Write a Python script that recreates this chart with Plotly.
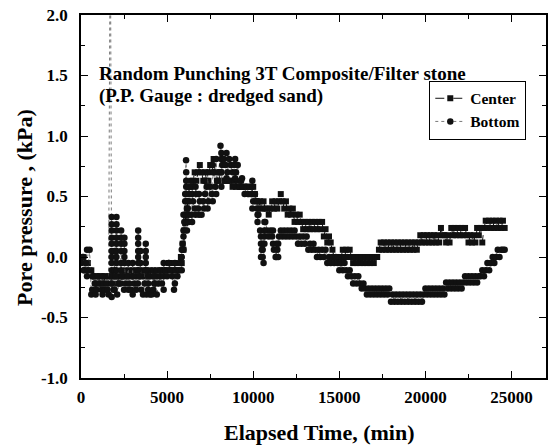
import plotly.graph_objects as go

# ---------------- data ----------------
# sampling grid of the logger, minutes
time_min = list(range(0, 24700, 100))

center_kpa = [
    0.0, 0.0, -0.05, -0.05, -0.05, -0.11,                                   # 0-500
    -0.11, -0.16, -0.16, -0.16, -0.22, -0.16, -0.16, -0.22, -0.16,          # 600-1400
    -0.16, -0.16, -0.22, -0.16, -0.16, -0.16, -0.22, -0.16, -0.16, -0.16, -0.16,  # 1500-2500
    -0.11, -0.16, -0.11, -0.16, -0.11, -0.16, -0.11, -0.16, -0.11, -0.16, -0.11,
    -0.16, -0.11, -0.16, -0.11, -0.16, -0.11, -0.16, -0.11, -0.16, -0.11,   # 2600-4600
    -0.11, -0.11, -0.11, -0.11, -0.05, -0.11, -0.11, -0.05, -0.11, -0.11, -0.05,  # 4700-5700
    0.0, 0.11, 0.22, 0.33, 0.46, 0.58, 0.63,                                # 5800-6400
    0.63, 0.70, 0.63, 0.70, 0.76, 0.70, 0.63, 0.70, 0.63, 0.63,             # 6500-7400
    0.76, 0.70, 0.81, 0.70, 0.63, 0.63, 0.70, 0.63, 0.63, 0.63, 0.63, 0.63, # 7500-8600
    0.63, 0.58, 0.63, 0.58, 0.63, 0.58, 0.58, 0.58, 0.58, 0.58, 0.58,       # 8700-9700
    0.52, 0.52, 0.58, 0.52, 0.46, 0.40, 0.46, 0.40, 0.46, 0.40,             # 9800-10700
    0.40, 0.35, 0.40, 0.46, 0.40, 0.46, 0.40, 0.46, 0.52, 0.46, 0.40, 0.46,
    0.35, 0.40, 0.35, 0.40,                                                 # 10800-12300
    0.29, 0.35, 0.29, 0.35, 0.29,                                           # 12400-12800
    0.23, 0.29, 0.23, 0.29, 0.23, 0.29, 0.23, 0.29, 0.23, 0.29, 0.23, 0.29, # 12900-14000
    0.17, 0.23, 0.12, 0.17, 0.12,                                           # 14100-14500
    0.06, 0.0, 0.0, 0.0, 0.0, 0.0, 0.06, 0.0, 0.06, 0.0, 0.06, 0.0,         # 14600-15700
    -0.05, 0.0, -0.05, 0.0, -0.05, 0.0, -0.05, 0.0, -0.05, 0.0, -0.05, 0.0,
    -0.05, 0.0,                                                             # 15800-17100
    0.0, 0.06, 0.12, 0.06, 0.12, 0.06, 0.12, 0.06,                          # 17200-17900
    0.12, 0.06, 0.12, 0.06, 0.12, 0.06, 0.12, 0.06, 0.12, 0.06, 0.12, 0.06,
    0.12, 0.06, 0.12, 0.06, 0.12,                                           # 18000-19600
    0.18, 0.12, 0.18, 0.12, 0.18, 0.12, 0.18, 0.12, 0.18, 0.12, 0.18, 0.12, # 19700-20800
    0.24, 0.18, 0.18, 0.12, 0.18, 0.12,                                     # 20900-21400
    0.24, 0.18, 0.24, 0.18, 0.24, 0.18, 0.24, 0.18, 0.24, 0.18,             # 21500-22400
    0.12, 0.18, 0.12, 0.18, 0.12, 0.24, 0.18, 0.24, 0.12, 0.24,             # 22500-23400
    0.30, 0.24, 0.30, 0.24, 0.30, 0.24, 0.30, 0.24, 0.30, 0.24, 0.30, 0.24, # 23500-24600
]

bottom_kpa = [
    -0.05, 0.0, -0.11, -0.05, -0.11, 0.06,                                  # 0-500
    -0.31, -0.16, -0.22, -0.27, -0.16, -0.22, -0.27, -0.22, -0.27, -0.22, -0.31,  # 600-1600
    3.0,                                                                    # 1700 (off scale)
    -0.22, -0.27, -0.16, -0.31, -0.22,                                      # 1800-2200
    -0.22, -0.16, -0.27, -0.22, -0.16, -0.22, -0.27, -0.16, -0.22, -0.27,   # 2300-3200
    -0.22, -0.16, -0.27, -0.31, -0.22, -0.31, -0.27, -0.31,                 # 3300-4000
    -0.31, -0.27, -0.22, -0.31, -0.22, -0.16,                               # 4100-4600
    -0.22, -0.16, -0.11, -0.16, -0.05, -0.11, -0.16, -0.27, -0.11, -0.16, -0.11,  # 4700-5700
    -0.05, 0.11, 0.29, 0.80, 0.40, 0.52,                                    # 5800-6300
    0.35, 0.46, 0.40, 0.52, 0.40, 0.46, 0.35, 0.46, 0.52, 0.58, 0.46,       # 6400-7400
    0.58, 0.52, 0.70, 0.58, 0.63, 0.70, 0.92, 0.76, 0.81,                   # 7500-8300
    0.76, 0.70, 0.81, 0.76, 0.70, 0.76, 0.70, 0.76,                         # 8400-9100
    0.58, 0.63, 0.58, 0.52, 0.58, 0.52, 0.58, 0.52, 0.46, 0.52, 0.46,       # 9200-10200
    0.35, 0.22, 0.06, -0.05, 0.29, 0.22, 0.17, 0.22, 0.17, 0.06, 0.0, 0.06, # 10300-11400
    0.17, 0.22, 0.17, 0.22, 0.17, 0.22, 0.17, 0.22, 0.17, 0.22,             # 11500-12400
    0.17, 0.11, 0.17, 0.11, 0.17, 0.11, 0.17,                               # 12500-13100
    0.06, 0.11, 0.06, 0.11, 0.06,                                           # 13200-13600
    0.0, 0.06, 0.0, 0.06, 0.0, 0.06,                                        # 13700-14200
    -0.05, 0.0, -0.05, 0.0, -0.05, 0.0, -0.05,                              # 14300-14900
    -0.11, -0.05, -0.11, -0.05, -0.11,                                      # 15000-15400
    -0.16, -0.11, -0.16, -0.22, -0.16, -0.22, -0.16, -0.22, -0.26, -0.22, -0.26,  # 15500-16500
    -0.31, -0.26, -0.31, -0.26, -0.31, -0.26, -0.31, -0.26, -0.31, -0.26,
    -0.31, -0.26, -0.31, -0.26,                                             # 16600-17900
    -0.37, -0.31, -0.37, -0.31, -0.37, -0.31, -0.37, -0.31, -0.37, -0.31,
    -0.37, -0.31, -0.37, -0.31, -0.37, -0.31, -0.37, -0.31, -0.37, -0.31,   # 18000-19900
    -0.26, -0.31, -0.26, -0.31, -0.26, -0.31, -0.26, -0.31, -0.26, -0.31, -0.26, -0.31,  # 20000-21100
    -0.21, -0.26, -0.21, -0.26, -0.21, -0.26, -0.21, -0.26,                 # 21200-21900
    -0.21, -0.26, -0.21, -0.16, -0.21, -0.16, -0.21, -0.16, -0.21, -0.16, -0.21,  # 22000-23000
    -0.16, -0.16, -0.11, -0.16, -0.11, -0.05, -0.11, -0.05,                 # 23100-23800
    0.0, -0.05, 0.0, 0.06, 0.0, 0.06, 0.06, 0.06,                           # 23900-24600
]

# extra readings scattered between the grid times (noisy columns)
bottom_scatter = [
    (150, -0.11), (150, 0.0), (350, 0.06), (350, -0.16), (650, -0.27),
    (850, -0.31), (850, -0.22), (1250, -0.31), (1250, -0.16), (1550, -0.27),
    (1780, 0.33), (1780, 0.27), (1780, 0.22), (1780, 0.16), (1780, 0.11), (1780, 0.05),
    (1780, 0.0), (1780, -0.05), (1780, -0.11), (1780, -0.16), (1780, -0.33),
    (1950, 0.05), (1950, -0.11), (1950, -0.27),
    (2060, 0.33), (2060, 0.27), (2060, 0.22), (2060, 0.16), (2060, 0.11), (2060, 0.05),
    (2060, 0.0), (2060, -0.05), (2060, -0.11),
    (2330, 0.22), (2330, 0.16), (2330, 0.11), (2330, 0.05), (2330, -0.05), (2330, -0.11),
    (2520, 0.16), (2520, 0.11), (2520, 0.05), (2520, 0.0), (2520, -0.05),
    (2750, -0.05), (2750, -0.27), (3000, -0.05), (3000, -0.31),
    (3320, 0.22), (3320, 0.16), (3320, 0.11), (3320, 0.05), (3320, 0.0), (3320, -0.05), (3320, -0.11),
    (3450, 0.05), (3450, -0.05),
    (3760, 0.11), (3760, 0.05), (3760, 0.0), (3760, -0.05), (3760, -0.11),
    (3900, -0.16), (3900, -0.22), (4250, -0.16), (4250, -0.22),
    (4800, -0.27), (4800, -0.05), (5100, -0.05), (5450, -0.05), (5450, -0.22),
    (5850, 0.0), (5850, -0.11), (5850, 0.06),
    (5950, 0.17), (5950, 0.06), (5950, 0.22), (5950, 0.35),
    (6050, 0.46), (6050, 0.35), (6050, 0.52),
    (6110, 0.70), (6110, 0.63), (6110, 0.58),
    (6150, 0.52), (6150, 0.46), (6150, 0.40), (6150, 0.29), (6150, 0.22),
    (6250, 0.35), (6250, 0.29), (6250, 0.46), (6250, 0.58),
    (6450, 0.29), (6450, 0.52), (6450, 0.58), (6650, 0.35), (6650, 0.58),
    (6850, 0.35), (6850, 0.52), (7150, 0.40), (7150, 0.63), (7350, 0.40), (7350, 0.70),
    (7650, 0.46), (7650, 0.76), (7850, 0.52), (7850, 0.81),
    (8150, 0.86), (8150, 0.81), (8150, 0.70), (8150, 0.58),
    (8450, 0.86), (8450, 0.65), (8950, 0.81), (8950, 0.65), (9350, 0.65),
    (9950, 0.63), (9950, 0.58), (9950, 0.40),
    (10250, 0.46), (10250, 0.40), (10250, 0.35), (10250, 0.29),
    (10450, 0.17), (10450, 0.11), (10450, 0.0), (10550, 0.11), (10550, 0.06), (10550, 0.0),
    (10650, 0.22), (10650, 0.17), (10650, 0.11), (10650, 0.29),
    (11150, 0.22), (11150, 0.11), (11350, 0.11), (11350, 0.0), (11450, 0.11), (11450, 0.0),
]

center_scatter = [
    (5850, -0.05), (5950, 0.06), (6050, 0.28), (6150, 0.40), (6250, 0.52),
]

x_tick_values = [0, 5000, 10000, 15000, 20000, 25000]
x_tick_labels = ["0", "5000", "10000", "15000", "20000", "25000"]
y_tick_values = [-1.0, -0.5, 0.0, 0.5, 1.0, 1.5, 2.0]
y_tick_labels = ["-1.0", "-0.5", "0.0", "0.5", "1.0", "1.5", "2.0"]

note_line1 = "Random Punching 3T Composite/Filter stone"
note_line2 = "(P.P. Gauge : dredged sand)"
x_title = "Elapsed Time, (min)"
y_title = "Pore pressure , (kPa)"

# ---------------- build series ----------------
def merge(grid_t, grid_v, extra):
    pts = list(zip(grid_t, grid_v)) + list(extra)
    pts.sort(key=lambda p: p[0])
    return [p[0] for p in pts], [p[1] for p in pts]

assert len(center_kpa) == len(time_min)
assert len(bottom_kpa) == len(time_min)
ct, cv = merge(time_min, center_kpa, center_scatter)
bt, bv = merge(time_min, bottom_kpa, bottom_scatter)

SERIF = "Liberation Serif"
fig = go.Figure()
fig.add_trace(go.Scatter(
    x=ct, y=cv, name="Center", mode="lines+markers",
    line=dict(color="#111111", width=1, dash="dash"),
    marker=dict(symbol="square", size=6, color="#111111"),
))
fig.add_trace(go.Scatter(
    x=bt, y=bv, name="Bottom", mode="lines+markers",
    line=dict(color="#555555", width=0.8, dash="dot"),
    marker=dict(symbol="circle", size=6.5, color="#111111"),
))

axis_common = dict(
    showline=True, linecolor="black", linewidth=1.5, mirror="ticks",
    ticks="inside", ticklen=7, tickwidth=1.3, tickcolor="black",
    showgrid=False, zeroline=False,
    tickfont=dict(family=SERIF, size=17, color="black", weight="bold"),
)
fig.update_xaxes(range=[0, 27000], tickmode="array", tickvals=x_tick_values,
                 ticktext=x_tick_labels,
                 minor=dict(dtick=2500, tick0=0, ticks="inside", ticklen=4,
                            tickwidth=1, tickcolor="black"),
                 ticklabelstandoff=3, **axis_common)
fig.update_yaxes(range=[-1, 2], tickmode="array", tickvals=y_tick_values,
                 ticktext=y_tick_labels,
                 minor=dict(dtick=0.25, tick0=0, ticks="inside", ticklen=4,
                            tickwidth=1, tickcolor="black"),
                 ticklabelstandoff=8, **axis_common)

fig.add_annotation(text=note_line1, xref="paper", yref="paper", x=0.034, y=0.838,
                   xanchor="left", yanchor="middle", showarrow=False,
                   font=dict(family=SERIF, size=19, color="black", weight="bold"))
fig.add_annotation(text=note_line2, xref="paper", yref="paper", x=0.034, y=0.778,
                   xanchor="left", yanchor="middle", showarrow=False,
                   font=dict(family=SERIF, size=19, color="black", weight="bold"))
fig.add_annotation(text=x_title, xref="paper", yref="paper", x=0.512, y=-0.149,
                   xanchor="center", yanchor="middle", showarrow=False,
                   font=dict(family=SERIF, size=22, color="black", weight="bold"))
fig.add_annotation(text=y_title, xref="paper", yref="paper", x=-0.1215, y=0.47,
                   xanchor="center", yanchor="middle", showarrow=False, textangle=-90,
                   font=dict(family=SERIF, size=22, color="black", weight="bold"))

fig.update_layout(
    width=549, height=447,
    margin=dict(l=81, r=1, t=15, b=69),
    paper_bgcolor="white", plot_bgcolor="white",
    showlegend=True,
    legend=dict(x=0.749, y=0.819, xanchor="left", yanchor="top",
                bordercolor="black", borderwidth=1, bgcolor="rgba(255,255,255,0)",
                font=dict(family=SERIF, size=15.5, color="black", weight="bold"),
                itemwidth=30, tracegroupgap=0),
)

fig.write_html("out.html")
